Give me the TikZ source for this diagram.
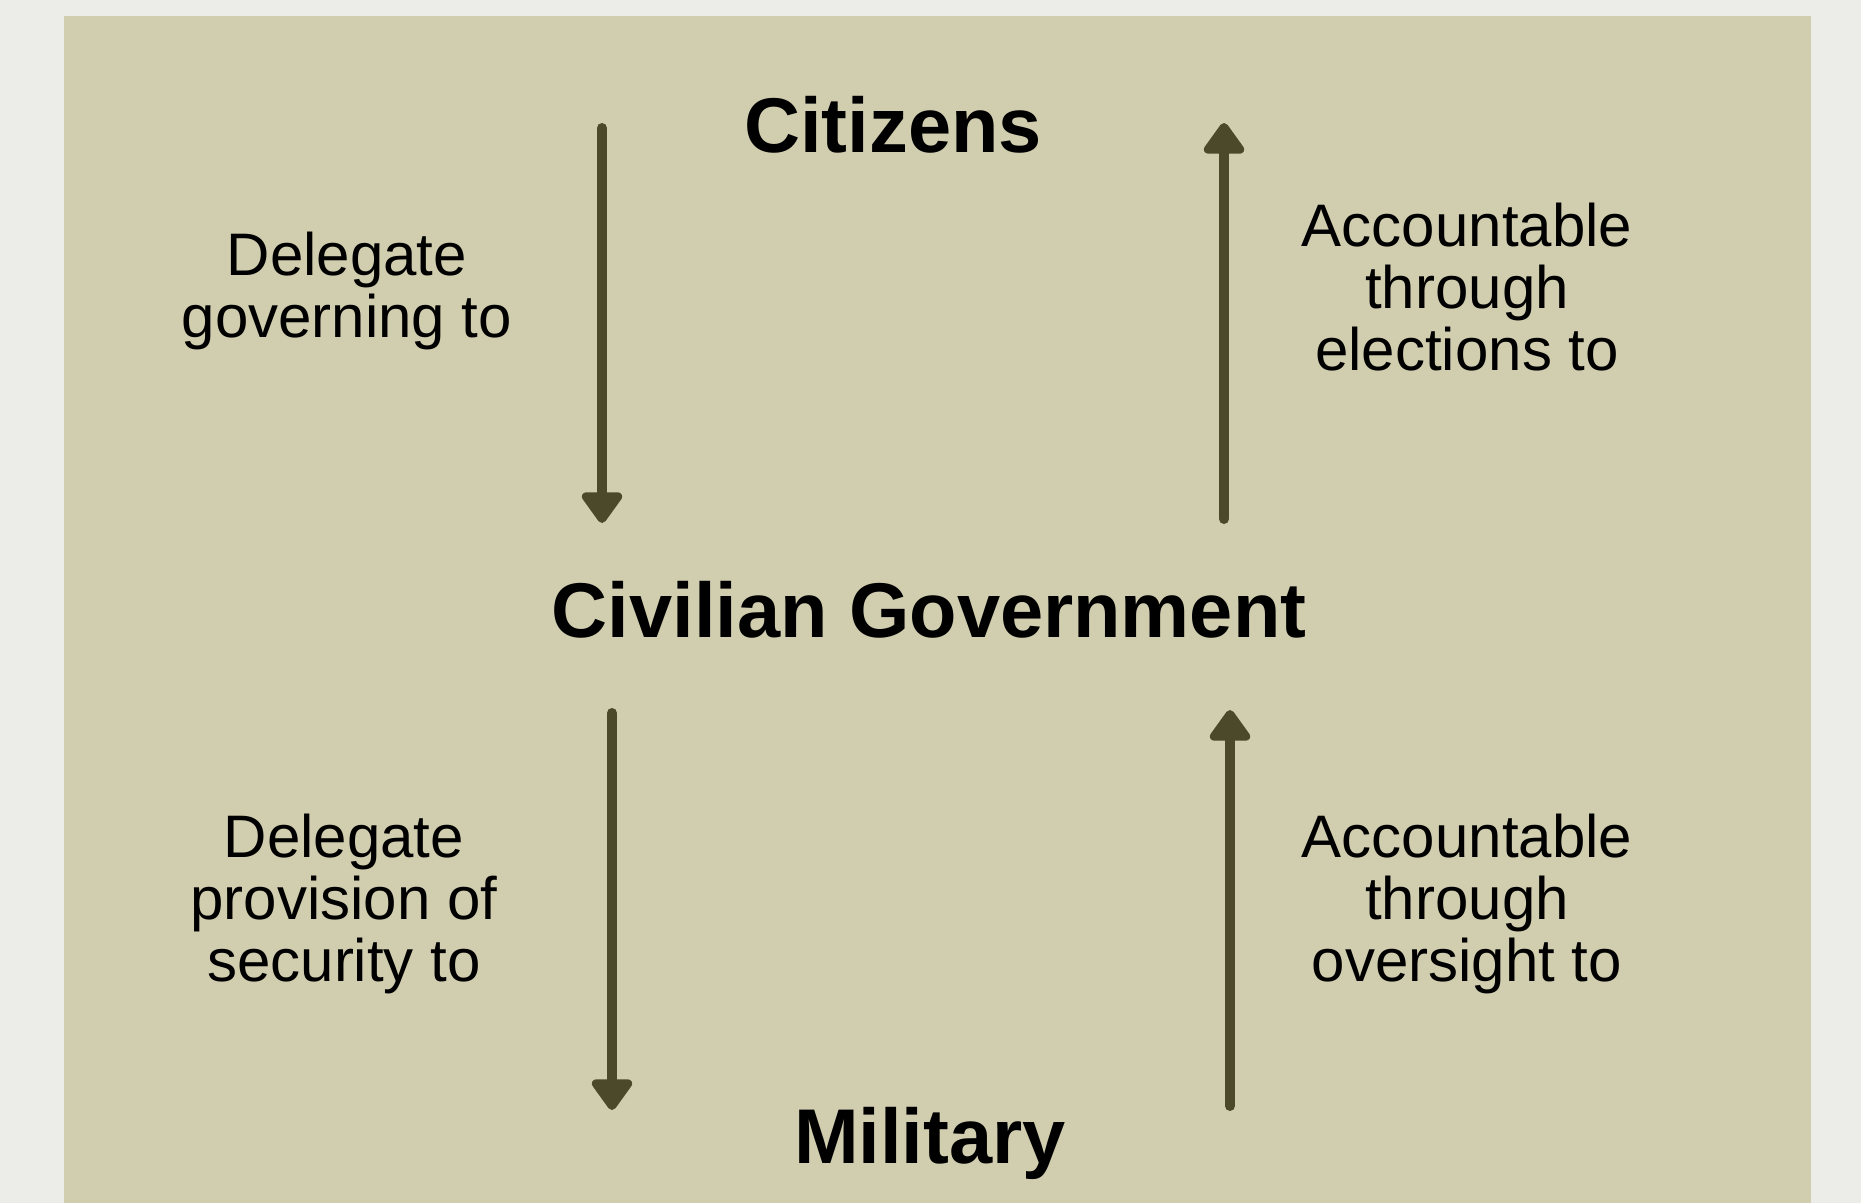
\documentclass[tikz,border=0pt]{standalone}
\usepackage{fontspec}
\setmainfont{Liberation Sans}
\usetikzlibrary{arrows.meta}
\definecolor{outerbg}{HTML}{ECEDE8}
\definecolor{panelbg}{HTML}{D1CDAF}
\definecolor{arrowcol}{HTML}{4B4929}
\tikzset{
  heading/.style={anchor=base, inner sep=0pt, font=\fontsize{38.8}{40}\selectfont\bfseries, text=black},
  label/.style={align=center, inner sep=0pt, font=\fontsize{30}{31}\selectfont, text=black},
  flow/.style={draw=arrowcol, line width=5pt, line cap=round,
    -{Triangle[width=23pt,length=17pt,round]}},
}
\begin{document}
\begin{tikzpicture}[x=0.5pt,y=-0.5pt]
\fill[outerbg] (0,0) rectangle (1861,1203);
\fill[panelbg] (64,16) rectangle (1811,1203);
\useasboundingbox (0,0) rectangle (1861,1203);
% headings
\node[heading] (cit) at (893,153) {Citizens};
\node[heading] (gov) at (929,637) {Civilian Government};
\node[heading] (mil) at (930,1163) {Military};
% labels
\node[label] (l1) at (347,291) {Delegate\\governing to};
\node[label] (l2) at (1467,287) {Accountable\\through\\elections to};
\node[label] (l3) at (344,904) {Delegate\\provision of\\security to};
\node[label] (l4) at (1467,904) {Accountable\\through\\oversight to};
% arrow end points
\coordinate (a1s) at (602,128);
\coordinate (a1e) at (602,523);
\coordinate (a2s) at (1224,519);
\coordinate (a2e) at (1224,123);
\coordinate (a3s) at (612,713);
\coordinate (a3e) at (612,1110);
\coordinate (a4s) at (1230,1106);
\coordinate (a4e) at (1230,710);
\draw[flow] (a1s) -- (a1e);
\draw[flow] (a2s) -- (a2e);
\draw[flow] (a3s) -- (a3e);
\draw[flow] (a4s) -- (a4e);
\end{tikzpicture}
\end{document}
